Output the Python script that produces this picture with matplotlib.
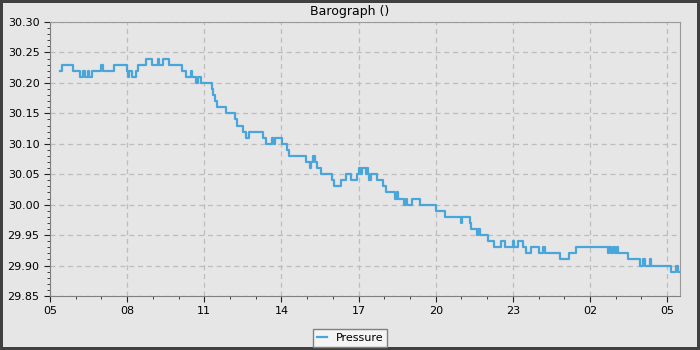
import matplotlib.pyplot as plt
from matplotlib.ticker import MultipleLocator

# hours after 05:00, start of each step, and pressure (inHg)
hours = [0.40, 0.47, 0.91, 1.17, 1.30, 1.35, 1.49, 1.53, 1.65, 1.97,
         2.07, 2.50, 3.01, 3.04, 3.07, 3.18, 3.36, 3.44, 3.72, 3.96,
         4.19, 4.23, 4.41, 4.64, 5.12, 5.28, 5.47, 5.51, 5.67, 5.75,
         5.88, 6.29, 6.35, 6.41, 6.49, 6.85, 7.20, 7.29, 7.52, 7.64,
         7.72, 8.28, 8.40, 8.63, 8.70, 8.75, 9.04, 9.21, 9.30, 9.95,
         10.10, 10.16, 10.22, 10.31, 10.38, 10.53, 10.96, 11.04, 11.31, 11.52,
         11.71, 11.93, 12.00, 12.10, 12.14, 12.28, 12.32, 12.36, 12.42, 12.47,
         12.71, 12.96, 13.07, 13.40, 13.49, 13.53, 13.75, 13.84, 13.88, 14.07,
         14.40, 15.02, 15.37, 16.00, 16.04, 16.32, 16.38, 16.60, 16.66, 16.73,
         17.05, 17.25, 17.54, 17.70, 17.99, 18.03, 18.20, 18.38, 18.51, 18.72,
         19.03, 19.17, 19.26, 19.84, 20.17, 20.47, 21.70, 21.75, 21.83, 21.91,
         21.98, 22.06, 22.10, 22.46, 22.96, 23.05, 23.15, 23.32, 23.36, 24.16,
         24.36, 24.42, 24.47]
pressure = [30.22, 30.23, 30.22, 30.21, 30.22, 30.21, 30.22, 30.21, 30.22, 30.23,
            30.22, 30.23, 30.22, 30.21, 30.22, 30.21, 30.22, 30.23, 30.24, 30.23,
            30.24, 30.23, 30.24, 30.23, 30.22, 30.21, 30.22, 30.21, 30.20, 30.21,
            30.20, 30.19, 30.18, 30.17, 30.16, 30.15, 30.14, 30.13, 30.12, 30.11,
            30.12, 30.11, 30.10, 30.11, 30.10, 30.11, 30.10, 30.09, 30.08, 30.07,
            30.06, 30.07, 30.08, 30.07, 30.06, 30.05, 30.04, 30.03, 30.04, 30.05,
            30.04, 30.05, 30.06, 30.05, 30.06, 30.05, 30.06, 30.05, 30.04, 30.05,
            30.04, 30.03, 30.02, 30.01, 30.02, 30.01, 30.00, 30.01, 30.00, 30.01,
            30.00, 29.99, 29.98, 29.97, 29.98, 29.97, 29.96, 29.95, 29.96, 29.95,
            29.94, 29.93, 29.94, 29.93, 29.94, 29.93, 29.94, 29.93, 29.92, 29.93,
            29.92, 29.93, 29.92, 29.91, 29.92, 29.93, 29.92, 29.93, 29.92, 29.93,
            29.92, 29.93, 29.92, 29.91, 29.90, 29.91, 29.90, 29.91, 29.90, 29.89,
            29.90, 29.89, 29.89]
tick_hours = [0, 3, 6, 9, 12, 15, 18, 21, 24]
tick_labels = ["05", "08", "11", "14", "17", "20", "23", "02", "05"]

bg = "#e6e6e6"
fig = plt.figure(figsize=(7, 3.5), dpi=100, facecolor=bg,
                 edgecolor="#404040", linewidth=3)
ax = fig.add_axes([50 / 700, 1 - 296 / 350, 630 / 700, 274 / 350], facecolor=bg)

ax.step(hours, pressure, where="post", color="#49a6da", lw=1.6, label="Pressure")

ax.set_xlim(0, 24.5)
ax.set_ylim(29.85, 30.30)
ax.set_xticks(tick_hours)
ax.set_xticklabels(tick_labels)
ax.xaxis.set_minor_locator(MultipleLocator(1))
ax.set_yticks([29.85 + 0.05 * i for i in range(10)])
ax.yaxis.set_major_formatter(plt.FormatStrFormatter("%.2f"))
ax.yaxis.set_minor_locator(MultipleLocator(0.01))
ax.tick_params(which="major", length=4, labelsize=8, color="#222222")
ax.tick_params(which="minor", length=2.5, color="#222222")

ax.grid(True, which="major", ls=(0, (4, 3)), color="#bdbdbd", lw=0.9)
ax.set_axisbelow(True)
for side in ["top", "right"]:
    ax.spines[side].set_color("#9a9a9a")
for side in ["left", "bottom"]:
    ax.spines[side].set_color("#808080")

fig.text(0.5, 1 - 11 / 350, "Barograph ()", ha="center", va="center", fontsize=9)

leg = fig.legend(loc="center", bbox_to_anchor=(350 / 700, 1 - 338 / 350),
                 fontsize=8, fancybox=False, framealpha=1,
                 handlelength=0.9, borderpad=0.35)
leg.get_frame().set_facecolor("#f4f4f4")
leg.get_frame().set_edgecolor("#808080")

fig.savefig("out.png", dpi=100, facecolor=bg, edgecolor="#404040")
